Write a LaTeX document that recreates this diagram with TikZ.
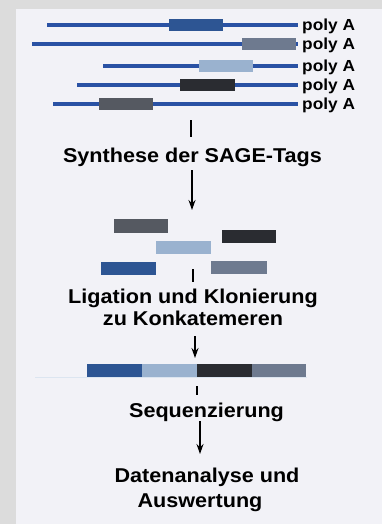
\documentclass[tikz,border=0pt]{standalone}
\usepackage{fontspec}
\setmainfont{Liberation Sans}[FakeStretch=1.08]
\usetikzlibrary{arrows.meta}
\definecolor{outerbg}{HTML}{DCDCDC}
\definecolor{innerbg}{HTML}{F2F2F7}
\definecolor{strand}{HTML}{2A52A4}
\definecolor{tagA}{HTML}{2D5593}
\definecolor{tagB}{HTML}{6E7A8F}
\definecolor{tagC}{HTML}{9AB2CF}
\definecolor{tagD}{HTML}{2A2C31}
\definecolor{tagE}{HTML}{555961}
\definecolor{thinline}{HTML}{DCE5F0}
\begin{document}
\begin{tikzpicture}[x=1pt,y=-1pt,
  strandline/.style={draw=strand,line width=4.5pt},
  polylabel/.style={font=\fontsize{16}{18}\selectfont\bfseries,anchor=base west,inner sep=0pt},
  steplabel/.style={font=\fontsize{20}{22}\selectfont\bfseries,anchor=base,inner sep=0pt,align=center},
  tickline/.style={draw=black,line width=1.3pt},
  flowarrow/.style={draw=black,line width=1.3pt,-{Stealth[length=10pt,width=7pt]}}]
\useasboundingbox (0,0) rectangle (382,524);
\fill[outerbg] (0,0) rectangle (382,524);
\fill[innerbg] (16,9) rectangle (382,524);
% strands
\draw[strandline] (47,25) -- (298,25);
\draw[strandline] (32,44) -- (298,44);
\draw[strandline] (103,66) -- (298,66);
\draw[strandline] (77,85) -- (298,85);
\draw[strandline] (53,104) -- (298,104);
% tags on strands
\fill[tagA] (169,19) rectangle (223,31);
\fill[tagB] (242,38) rectangle (296,50);
\fill[tagC] (199,60) rectangle (253,72);
\fill[tagD] (180,79) rectangle (235,91);
\fill[tagE] (99,98) rectangle (153,110);
% poly A labels
\node[polylabel] (p1) at (302,30.5) {poly A};
\node[polylabel] (p2) at (302,49.5) {poly A};
\node[polylabel] (p3) at (302,71.5) {poly A};
\node[polylabel] (p4) at (302,90.5) {poly A};
\node[polylabel] (p5) at (302,109.5) {poly A};
% step 1
\coordinate (t1a) at (191,120);
\coordinate (t1b) at (191,137);
\draw[tickline] (t1a) -- (t1b);
\node[steplabel] (s1) at (192.5,162) {Synthese der SAGE-Tags};
\coordinate (a1a) at (192,170);
\coordinate (a1b) at (192,210);
\draw[flowarrow] (a1a) -- (a1b);
% free tags
\fill[tagE] (114,219) rectangle (168,233);
\fill[tagD] (222,230) rectangle (276,243);
\fill[tagC] (156,241) rectangle (211,254);
\fill[tagA] (101,262) rectangle (156,275);
\fill[tagB] (211,261) rectangle (267,274);
% step 2
\coordinate (t2a) at (193,269);
\coordinate (t2b) at (193,282);
\draw[tickline] (t2a) -- (t2b);
\node[steplabel] (s2) at (193,325) {Ligation und Klonierung\\zu Konkatemeren};
\coordinate (a2a) at (195,336);
\coordinate (a2b) at (195,358);
\draw[flowarrow] (a2a) -- (a2b);
% concatemer
\draw[thinline,line width=1pt] (35,377) -- (307,377);
\fill[tagA] (87,364) rectangle (142,377);
\fill[tagC] (142,364) rectangle (197,377);
\fill[tagD] (197,364) rectangle (252,377);
\fill[tagB] (252,364) rectangle (306,377);
% step 3
\coordinate (t3a) at (197,386);
\coordinate (t3b) at (197,395);
\draw[tickline] (t3a) -- (t3b);
\node[steplabel] (s3) at (206.5,417) {Sequenzierung};
\coordinate (a3a) at (200,421);
\coordinate (a3b) at (200,454);
\draw[flowarrow] (a3a) -- (a3b);
% step 4
\node[steplabel,font=\fontsize{20}{25}\selectfont\bfseries] (s4) at (207,507) {Datenanalyse und\\Auswertung\hspace*{14pt}};
\end{tikzpicture}
\end{document}
